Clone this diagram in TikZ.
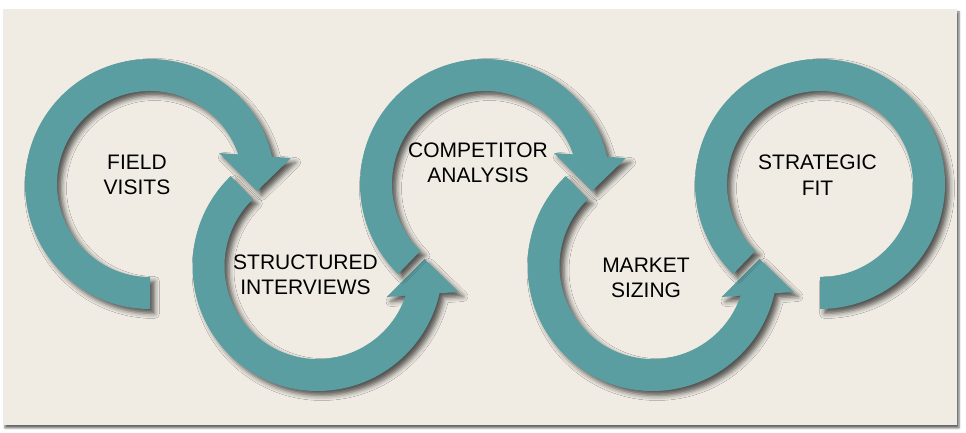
\documentclass[tikz,border=0pt]{standalone}
\usepackage{fontspec}
\setmainfont{Liberation Sans}
\usetikzlibrary{shadows.blur}

\definecolor{ringteal}{RGB}{90,158,161}
\definecolor{paper}{RGB}{240,236,228}

\tikzset{
	ring/.style={fill=ringteal, blur shadow={shadow xshift=4.5pt, shadow yshift=-4.5pt, shadow blur radius=5pt, shadow opacity=65}},
	steptext/.style={align=center, text=black, font=\fontsize{21}{25.5}\selectfont},
}

\begin{document}
\begin{tikzpicture}[x=1pt, y=1pt]
			\useasboundingbox (0,0) rectangle (966,433);
			\fill[paper, blur shadow={shadow xshift=2pt, shadow yshift=-3pt, shadow blur radius=2pt, shadow opacity=60}] (3,8) rectangle (957,424);
			
			% arrows turning clockwise, head on the right pointing down
			\fill[ring, shift={(150,249)}] (270:93) -- (270:125) arc[start angle=270, end angle=12.6, radius=125] -- (141,26) -- (107,-7) -- (69,31) -- (18.6:93) arc[start angle=18.6, end angle=270, radius=93] -- cycle;
			% arrows turning the other way, head pointing up
			\fill[ring, shift={(317.5,167)}] (134:93) -- (134:125) arc[start angle=134, end angle=347.4, radius=125] -- (141,-26) -- (107,7) -- (69,-31) -- (341.4:93) arc[start angle=341.4, end angle=134, radius=93] -- cycle;
			\fill[ring, shift={(485,249)}] (226:93) -- (226:125) arc[start angle=226, end angle=12.6, radius=125] -- (141,26) -- (107,-7) -- (69,31) -- (18.6:93) arc[start angle=18.6, end angle=226, radius=93] -- cycle;
			\fill[ring, shift={(652.5,167)}] (134:93) -- (134:125) arc[start angle=134, end angle=347.4, radius=125] -- (141,-26) -- (107,7) -- (69,-31) -- (341.4:93) arc[start angle=341.4, end angle=134, radius=93] -- cycle;
			% last one has no head
			\fill[ring, shift={(820,249)}] (226:93) -- (226:125) arc[start angle=226, end angle=-90, radius=125] -- (-90:93) arc[start angle=-90, end angle=226, radius=93] -- cycle;
			
			\node[steptext] (visits) at (137,258) {FIELD\\VISITS};
			\node[steptext] (interviews) at (305.5,158) {STRUCTURED\\INTERVIEWS};
			\node[steptext] (competitor) at (478,270) {COMPETITOR\\ANALYSIS};
			\node[steptext] (sizing) at (646,155) {MARKET\\SIZING};
			\node[steptext] (fit) at (817.5,258) {STRATEGIC\\FIT};
			
		\end{tikzpicture}
\end{document}
